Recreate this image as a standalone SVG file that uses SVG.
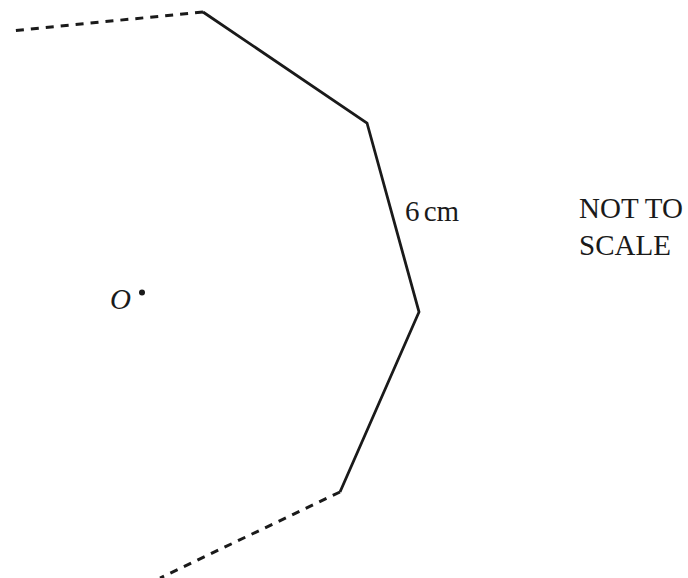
<svg xmlns="http://www.w3.org/2000/svg" width="688" height="578" viewBox="0 0 688 578">
<style>
.solid{fill:none;stroke:#1a1a1a;stroke-width:2.8;stroke-linejoin:miter}
.dash{fill:none;stroke:#1a1a1a;stroke-width:3;stroke-dasharray:8 7}
text{font-family:"Liberation Serif","Times New Roman",serif;font-size:29px;fill:#1a1a1a}
</style>
<rect width="688" height="578" fill="#fff"/>
<g id="connectors">
<path class="dash" d="M203,12 L10,31"/>
<path class="solid" d="M203,12 L367,123 L419,312 L340,492"/>
<path class="dash" d="M340,492 L160,578"/>
</g>
<g id="centre">
<text x="110" y="309" font-style="italic">O</text>
<circle cx="142" cy="292.5" r="3" fill="#1a1a1a"/>
</g>
<g id="label-side">
<text x="405" y="221">6<tspan dx="-3"> </tspan>cm</text>
</g>
<g id="note">
<text x="579" y="218">NOT TO</text>
<text x="579" y="255">SCALE</text>
</g>
</svg>
